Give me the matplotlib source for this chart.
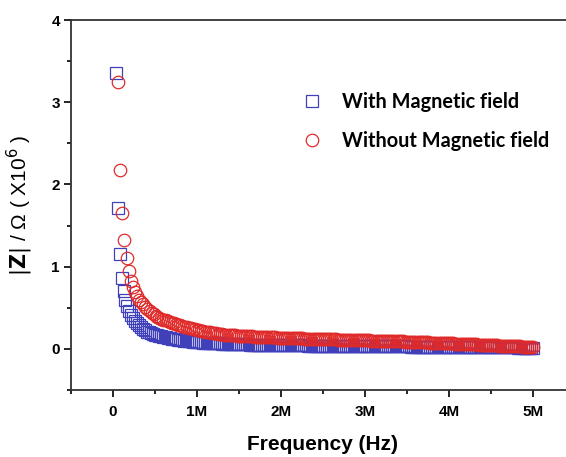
import numpy as np
import matplotlib
matplotlib.use('Agg')
import matplotlib.pyplot as plt
from matplotlib.ticker import MultipleLocator, FuncFormatter

# frequency in MHz, |Z| in 10^6 ohm
# head of each curve (steep part)
freq_with_head = [0.03, 0.055, 0.08, 0.103, 0.125, 0.148, 0.17, 0.193, 0.215, 0.238,
                  0.26, 0.283, 0.305, 0.33, 0.355, 0.38, 0.405, 0.43, 0.455, 0.48, 0.50]
z_with_head = [3.35, 1.71, 1.15, 0.86, 0.70, 0.59, 0.52, 0.46, 0.41, 0.37,
               0.34, 0.31, 0.29, 0.27, 0.24, 0.225, 0.21, 0.20, 0.19, 0.18, 0.172]

freq_without_head = [0.056, 0.083, 0.111, 0.135, 0.163, 0.185, 0.21, 0.235, 0.26, 0.285,
                     0.31, 0.335, 0.36, 0.385, 0.41, 0.435, 0.46, 0.485, 0.51]
z_without_head = [3.24, 2.18, 1.65, 1.32, 1.10, 0.95, 0.83, 0.75, 0.69, 0.64,
                  0.60, 0.57, 0.54, 0.51, 0.48, 0.46, 0.44, 0.42, 0.40]

# flat tail, shared frequency points
freq_tail = [0.525, 0.55, 0.575, 0.60, 0.625, 0.65, 0.675, 0.70, 0.725, 0.75,
             0.775, 0.80, 0.825, 0.85, 0.875, 0.90, 0.925, 0.95, 0.975, 1.00,
             1.025, 1.05, 1.075, 1.10, 1.125, 1.15, 1.175, 1.20, 1.225, 1.25,
             1.275, 1.30, 1.325, 1.35, 1.375, 1.40, 1.425, 1.45, 1.475, 1.50,
             1.525, 1.55, 1.575, 1.60, 1.625, 1.65, 1.675, 1.70, 1.725, 1.75,
             1.775, 1.80, 1.825, 1.85, 1.875, 1.90, 1.925, 1.95, 1.975, 2.00,
             2.025, 2.05, 2.075, 2.10, 2.125, 2.15, 2.175, 2.20, 2.225, 2.25,
             2.275, 2.30, 2.325, 2.35, 2.375, 2.40, 2.425, 2.45, 2.475, 2.50,
             2.525, 2.55, 2.575, 2.60, 2.625, 2.65, 2.675, 2.70, 2.725, 2.75,
             2.775, 2.80, 2.825, 2.85, 2.875, 2.90, 2.925, 2.95, 2.975, 3.00,
             3.025, 3.05, 3.075, 3.10, 3.125, 3.15, 3.175, 3.20, 3.225, 3.25,
             3.275, 3.30, 3.325, 3.35, 3.375, 3.40, 3.425, 3.45, 3.475, 3.50,
             3.525, 3.55, 3.575, 3.60, 3.625, 3.65, 3.675, 3.70, 3.725, 3.75,
             3.775, 3.80, 3.825, 3.85, 3.875, 3.90, 3.925, 3.95, 3.975, 4.00,
             4.025, 4.05, 4.075, 4.10, 4.125, 4.15, 4.175, 4.20, 4.225, 4.25,
             4.275, 4.30, 4.325, 4.35, 4.375, 4.40, 4.425, 4.45, 4.475, 4.50,
             4.525, 4.55, 4.575, 4.60, 4.625, 4.65, 4.675, 4.70, 4.725, 4.75,
             4.775, 4.80, 4.825, 4.85, 4.875, 4.90, 4.925, 4.95, 4.975, 5.00]
z_with_tail = [0.165, 0.158, 0.151, 0.145, 0.139, 0.134, 0.129, 0.124, 0.119, 0.115,
               0.111, 0.107, 0.104, 0.100, 0.097, 0.094, 0.091, 0.088, 0.085, 0.083,
               0.081, 0.079, 0.077, 0.075, 0.074, 0.072, 0.071, 0.069, 0.068, 0.067,
               0.066, 0.065, 0.064, 0.063, 0.062, 0.061, 0.060, 0.059, 0.058, 0.057,
               0.056, 0.055, 0.055, 0.054, 0.053, 0.053, 0.052, 0.051, 0.051, 0.050,
               0.050, 0.049, 0.049, 0.048, 0.048, 0.047, 0.047, 0.046, 0.046, 0.045,
               0.045, 0.045, 0.044, 0.044, 0.044, 0.043, 0.043, 0.043, 0.042, 0.042,
               0.042, 0.042, 0.041, 0.041, 0.041, 0.041, 0.040, 0.040, 0.040, 0.040,
               0.039, 0.039, 0.039, 0.039, 0.038, 0.038, 0.038, 0.038, 0.037, 0.037,
               0.037, 0.036, 0.036, 0.036, 0.036, 0.035, 0.035, 0.035, 0.035, 0.035,
               0.034, 0.034, 0.034, 0.034, 0.033, 0.033, 0.033, 0.033, 0.032, 0.032,
               0.032, 0.032, 0.031, 0.031, 0.031, 0.031, 0.031, 0.030, 0.030, 0.030,
               0.030, 0.029, 0.029, 0.029, 0.029, 0.028, 0.028, 0.028, 0.028, 0.027,
               0.027, 0.027, 0.027, 0.026, 0.026, 0.026, 0.026, 0.026, 0.025, 0.025,
               0.025, 0.024, 0.024, 0.024, 0.024, 0.023, 0.023, 0.023, 0.023, 0.022,
               0.022, 0.022, 0.022, 0.021, 0.021, 0.021, 0.021, 0.020, 0.020, 0.020,
               0.019, 0.019, 0.019, 0.019, 0.018, 0.018, 0.018, 0.018, 0.017, 0.017,
               0.017, 0.017, 0.016, 0.016, 0.016, 0.016, 0.016, 0.015, 0.015, 0.015]
z_without_tail = [0.388, 0.377, 0.366, 0.356, 0.346, 0.337, 0.328, 0.319, 0.310, 0.302,
                  0.294, 0.286, 0.278, 0.271, 0.264, 0.257, 0.250, 0.243, 0.236, 0.230,
                  0.225, 0.220, 0.215, 0.210, 0.205, 0.200, 0.196, 0.192, 0.188, 0.184,
                  0.180, 0.177, 0.174, 0.171, 0.169, 0.167, 0.165, 0.163, 0.161, 0.159,
                  0.158, 0.156, 0.155, 0.154, 0.152, 0.151, 0.150, 0.149, 0.148, 0.147,
                  0.146, 0.145, 0.144, 0.143, 0.142, 0.140, 0.139, 0.138, 0.137, 0.136,
                  0.135, 0.134, 0.133, 0.132, 0.131, 0.131, 0.130, 0.129, 0.128, 0.127,
                  0.126, 0.126, 0.125, 0.124, 0.123, 0.123, 0.122, 0.121, 0.120, 0.120,
                  0.119, 0.118, 0.117, 0.117, 0.116, 0.115, 0.114, 0.114, 0.113, 0.112,
                  0.111, 0.111, 0.110, 0.109, 0.108, 0.108, 0.107, 0.106, 0.105, 0.105,
                  0.104, 0.103, 0.102, 0.102, 0.101, 0.100, 0.099, 0.099, 0.098, 0.097,
                  0.096, 0.095, 0.094, 0.093, 0.093, 0.092, 0.091, 0.090, 0.089, 0.088,
                  0.087, 0.086, 0.085, 0.084, 0.083, 0.082, 0.081, 0.080, 0.079, 0.078,
                  0.077, 0.076, 0.075, 0.074, 0.073, 0.072, 0.071, 0.070, 0.069, 0.068,
                  0.067, 0.066, 0.065, 0.063, 0.062, 0.061, 0.060, 0.059, 0.058, 0.057,
                  0.056, 0.055, 0.054, 0.052, 0.051, 0.050, 0.049, 0.048, 0.047, 0.046,
                  0.045, 0.044, 0.043, 0.041, 0.040, 0.039, 0.038, 0.037, 0.036, 0.035,
                  0.034, 0.033, 0.032, 0.030, 0.029, 0.028, 0.027, 0.026, 0.025, 0.025]

labels = ['With Magnetic field', 'Without Magnetic field']
blue = '#4040bb'
red = '#e02a2a'

fig = plt.figure(figsize=(5.66, 4.57), dpi=100)
ax = fig.add_axes([71/566, 67/457, 504/566, 370/457])

ax.plot(freq_with_head + freq_tail, z_with_head + z_with_tail, ls='none', marker='s',
        ms=8, mfc='none', mec=blue, mew=0.9, label=labels[0])
ax.plot(freq_without_head + freq_tail, z_without_head + z_without_tail, ls='none', marker='o',
        ms=9, mfc='none', mec=red, mew=0.9, label=labels[1])

ax.set_xlim(-0.5, 5.5)
ax.set_ylim(-0.5, 4)
ax.xaxis.set_major_locator(MultipleLocator(1))
ax.xaxis.set_minor_locator(MultipleLocator(0.5))
ax.yaxis.set_major_locator(MultipleLocator(1))
ax.yaxis.set_minor_locator(MultipleLocator(0.5))
ax.xaxis.set_major_formatter(FuncFormatter(lambda v, p: '0' if v == 0 else '%dM' % v))
ax.tick_params(which='major', direction='out', length=5, width=1.2)
ax.tick_params(which='minor', direction='out', length=3, width=1.2)
ax.tick_params(axis='x', pad=6)
ax.tick_params(axis='y', pad=3)
for lab in ax.get_xticklabels() + ax.get_yticklabels():
    lab.set_fontfamily('Liberation Sans')
    lab.set_fontweight('bold')
    lab.set_fontsize(11)
for s in ax.spines.values():
    s.set_linewidth(1.3)
    s.set_color('#333333')

fig.text(323/566, 1 - 445/457, 'Frequency (Hz)', ha='center', va='center',
         fontsize=15, fontweight='bold', family='Liberation Sans')
fig.text(20/566, 1 - 205/457, r'$|\mathbf{Z}|$ / Ω ( X10$^{6}$ )', rotation=90,
         ha='center', va='center', fontsize=15, family='Liberation Sans')

leg = ax.legend(loc='upper left', bbox_to_anchor=(302/566, 1 - 92/457),
                bbox_transform=fig.transFigure, frameon=False, borderpad=0,
                borderaxespad=0, handlelength=1.0, handletextpad=1.0,
                labelspacing=0.95, prop={'family': 'Lato', 'weight': 'bold', 'size': 14.3})

fig.savefig('out.png', dpi=100)
